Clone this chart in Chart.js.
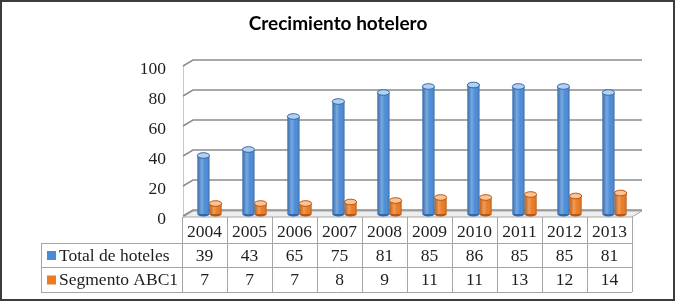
<!DOCTYPE html>
<html>
<head>
<meta charset="utf-8">
<script src="https://cdn.jsdelivr.net/npm/chart.js@4.4.1/dist/chart.umd.min.js"></script>
<style>
  body { margin: 0; background: #fff; }
  #wrap { width: 676px; height: 303px; position: relative; }
</style>
</head>
<body>
<div id="wrap"><canvas id="myChart"></canvas></div>
<script>
const titleText = "Crecimiento hotelero";
const years = ["2004", "2005", "2006", "2007", "2008", "2009", "2010", "2011", "2012", "2013"];
const totalHoteles = [39, 43, 65, 75, 81, 85, 86, 85, 85, 81];
const segmentoABC1 = [7, 7, 7, 8, 9, 11, 11, 13, 12, 14];
const seriesNames = ["Total de hoteles", "Segmento ABC1"];
const yTicks = [0, 20, 40, 60, 80, 100];

// colours: base, dark edge, top cap
const blue = { base: "#4a8bd6", dark: "#2d69b0", top: "#b3d0f1" };
const orange = { base: "#ec7a22", dark: "#b9560c", top: "#fbc396" };

const DX = 10, DY = 6;          // depth of the 3D box
const serif = "'Liberation Serif', 'Times New Roman', serif";

const deco = {
  id: "deco",
  beforeDraw(chart) {
    const ctx = chart.ctx;
    ctx.save();
    ctx.fillStyle = "#fff";
    ctx.fillRect(0, 0, chart.width, chart.height);
    ctx.restore();
  },
  beforeDatasetsDraw(chart) {
    const ctx = chart.ctx;
    const x = chart.scales.x, y = chart.scales.y;
    const l = x.left + 1, r = x.right;
    const y0 = y.getPixelForValue(0);
    ctx.save();
    // floor
    ctx.beginPath();
    ctx.moveTo(l, y0 + 1);
    ctx.lineTo(r, y0 + 1);
    ctx.lineTo(r + DX, y0 + 1 - DY);
    ctx.lineTo(l + DX, y0 + 1 - DY);
    ctx.closePath();
    ctx.fillStyle = "#eeeeee";
    ctx.fill();
    ctx.strokeStyle = "#a6a6a6";
    ctx.lineWidth = 1;
    ctx.stroke();
    // left wall edge
    ctx.beginPath();
    ctx.moveTo(l + 0.5, y.getPixelForValue(100));
    ctx.lineTo(l + 0.5, y0 + 1);
    ctx.strokeStyle = "#c8c8c8";
    ctx.stroke();
    // grid lines on side and back wall
    ctx.strokeStyle = "#8c8c8c";
    ctx.lineWidth = 1.5;
    yTicks.forEach(v => {
      const py = y.getPixelForValue(v);
      ctx.beginPath();
      ctx.moveTo(l, py);
      ctx.lineTo(l + DX, py - DY);
      ctx.lineTo(r + DX, py - DY);
      ctx.stroke();
    });
    ctx.restore();
    ctx.save();
    ctx.translate(5, -2);
  },
  afterDatasetsDraw(chart) {
    const ctx = chart.ctx;
    const cols = [blue, orange];
    chart.data.datasets.forEach((ds, di) => {
      const c = cols[di];
      chart.getDatasetMeta(di).data.forEach(el => {
        const w = el.width, h = el.base - el.y;
        const xl = el.x - w / 2;
        const g = ctx.createLinearGradient(xl, 0, xl + w, 0);
        g.addColorStop(0, "rgba(0,0,0,0.2)");
        g.addColorStop(0.35, "rgba(255,255,255,0.25)");
        g.addColorStop(0.65, "rgba(255,255,255,0)");
        g.addColorStop(1, "rgba(0,0,0,0.22)");
        ctx.fillStyle = g;
        ctx.fillRect(xl, el.y, w, h);
        // rounded bottom
        ctx.beginPath();
        ctx.ellipse(el.x, el.base, w / 2, 2.5, 0, 0, Math.PI);
        ctx.fillStyle = c.dark;
        ctx.fill();
        // top cap
        ctx.beginPath();
        ctx.ellipse(el.x, el.y, w / 2, 2.8, 0, 0, Math.PI * 2);
        ctx.fillStyle = c.top;
        ctx.fill();
        ctx.strokeStyle = c.dark;
        ctx.lineWidth = 1;
        ctx.stroke();
      });
    });
    ctx.restore();
  },
  afterDraw(chart) {
    const ctx = chart.ctx;
    const x = chart.scales.x, y = chart.scales.y;
    const n = years.length;
    const cw = (x.right - x.left) / n;
    const left = x.left, right = x.right;
    const top = y.getPixelForValue(0) + 1;
    const rows = [top, 243, 267, 292];
    const legL = 41;
    ctx.save();
    ctx.strokeStyle = "#a6a6a6";
    ctx.lineWidth = 1;
    ctx.beginPath();
    for (let i = 0; i <= n; i++) {
      const px = Math.round(left + i * cw) + 0.5;
      ctx.moveTo(px, top);
      ctx.lineTo(px, rows[3]);
    }
    [1, 2, 3].forEach(k => {
      ctx.moveTo(legL, rows[k] + 0.5);
      ctx.lineTo(right, rows[k] + 0.5);
    });
    ctx.moveTo(legL + 0.5, rows[1]);
    ctx.lineTo(legL + 0.5, rows[3]);
    ctx.stroke();

    ctx.fillStyle = "#1e1e1e";
    ctx.font = "17.5px " + serif;
    ctx.textAlign = "center";
    ctx.textBaseline = "middle";
    const rowVals = [years, totalHoteles, segmentoABC1];
    rowVals.forEach((vals, k) => {
      const cy = (rows[k] + rows[k + 1]) / 2 + (k === 0 ? 2 : 1);
      vals.forEach((v, i) => {
        ctx.fillText(String(v), x.getPixelForValue(i), cy);
      });
    });
    // legend keys in the table
    const cols = [blue, orange];
    ctx.textAlign = "left";
    seriesNames.forEach((name, k) => {
      const cy = (rows[k + 1] + rows[k + 2]) / 2;
      ctx.fillStyle = cols[k].base;
      ctx.fillRect(47, cy - 4, 9, 9);
      ctx.fillStyle = "#1e1e1e";
      ctx.fillText(name, 59, cy + 1);
    });

    // title
    ctx.font = "bold 19px Lato, 'Open Sans', sans-serif";
    ctx.fillStyle = "#000";
    ctx.textAlign = "center";
    ctx.fillText(titleText, 338, 24);

    // frame
    ctx.strokeStyle = "#3c3c3c";
    ctx.lineWidth = 2;
    ctx.strokeRect(1, 1, 673, 299);
    ctx.restore();
  }
};

new Chart(document.getElementById("myChart"), {
  type: "bar",
  data: {
    labels: years,
    datasets: [{
      label: seriesNames[0],
      data: totalHoteles,
      backgroundColor: blue.base,
      borderWidth: 0
    }, {
      label: seriesNames[1],
      data: segmentoABC1,
      backgroundColor: orange.base,
      borderWidth: 0
    }]
  },
  options: {
    responsive: true,
    maintainAspectRatio: false,
    animation: false,
    events: [],
    layout: { padding: { left: 0, right: 44, top: 66, bottom: 87 } },
    datasets: { bar: { categoryPercentage: 0.54, barPercentage: 1 } },
    plugins: {
      legend: { display: false },
      title: { display: false },
      tooltip: { enabled: false }
    },
    scales: {
      x: { display: false },
      y: {
        min: 0,
        max: 100,
        afterFit(scale) { scale.width = 182; },
        grid: { display: false, drawTicks: false },
        border: { display: false },
        ticks: {
          stepSize: 20,
          padding: 16,
          labelOffset: 3,
          color: "#1e1e1e",
          font: { family: serif, size: 17.5 }
        }
      }
    }
  },
  plugins: [deco]
});
</script>
</body>
</html>
